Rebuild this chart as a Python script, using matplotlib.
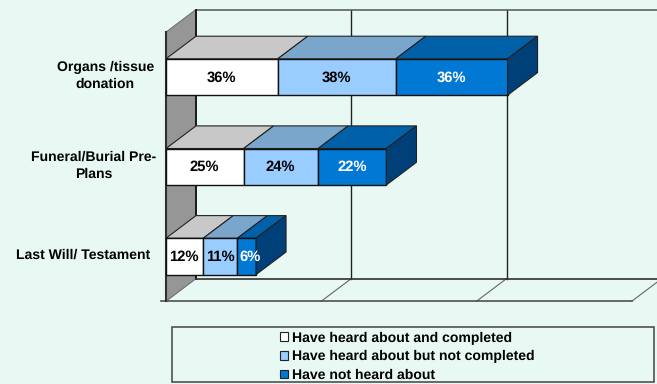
import matplotlib

matplotlib.use("Agg")
import matplotlib.pyplot as plt
from matplotlib.patches import Patch, Polygon, Rectangle

plt.rcParams["font.family"] = ["Liberation Sans", "DejaVu Sans"]
plt.rcParams["text.hinting"] = "no_hinting"

W, H = 657, 384

# data
categories = ["Organs /tissue\ndonation", "Funeral/Burial Pre-\nPlans", "Last Will/ Testament"]
series_names = [
    "Have heard about and completed",
    "Have heard about but not completed",
    "Have not heard about",
]
completed = [36, 25, 12]
not_completed = [38, 24, 11]
not_heard = [36, 22, 6]
grid_ticks = [0, 50, 100, 150]

# colours per series: front, top, text
FRONT = ["#FFFFFF", "#99CCFF", "#0078D4"]
TOP = ["#C8C8C8", "#7BA6CC", "#0060A8"]
TEXT = ["#000000", "#000000", "#FFFFFF"]
SIDE = "#004078"
BG = "#E8F8F3"
WALL = "#969696"

# chart geometry, pixels
X0 = 166
PX_PER_PCT = 3.105
ROW0 = 77
ROW_STEP = 89.7
DEPTH_X = 30 / PX_PER_PCT
DEPTH_Y = 22.6 / ROW_STEP
BAR_H = 36.4 / ROW_STEP

fig = plt.figure(figsize=(W / 100, H / 100), dpi=100, facecolor=BG)
ax = fig.add_axes([0, 0, 1, 1])
ax.set_xlim(-X0 / PX_PER_PCT, (W - X0) / PX_PER_PCT)
ax.set_ylim((H - ROW0) / ROW_STEP, -ROW0 / ROW_STEP)
ax.axis("off")

n = len(categories)
floor_y = n - 0.5
top_y = -0.5

# left wall
ax.add_patch(Polygon(
    [(0, top_y), (DEPTH_X, top_y - DEPTH_Y), (DEPTH_X, floor_y - DEPTH_Y), (0, floor_y)],
    facecolor=WALL, edgecolor="#707070", linewidth=0.8, zorder=1,
))

# back wall gridlines and floor
for i, t in enumerate(grid_ticks):
    if i > 0 and t < 150:
        ax.plot([t + DEPTH_X] * 2, [top_y - DEPTH_Y, floor_y - DEPTH_Y], color="#222222", lw=1.0, zorder=1)
    if i > 0:
        ax.plot([t, t + DEPTH_X], [floor_y, floor_y - DEPTH_Y], color="#666666", lw=0.8, zorder=1)
ax.plot([DEPTH_X, DEPTH_X], [top_y - DEPTH_Y, floor_y - DEPTH_Y], color="#111111", lw=1.3, zorder=2)
ax.plot([DEPTH_X, 150 + DEPTH_X], [top_y - DEPTH_Y] * 2, color="#606060", lw=1.2, zorder=1)
ax.plot([DEPTH_X, 150 + DEPTH_X], [floor_y - DEPTH_Y] * 2, color="#303030", lw=1.2, zorder=2)
ax.plot([-5 / PX_PER_PCT, 150], [floor_y] * 2, color="#505050", lw=1.2, zorder=2)
ax.plot([0, 0], [top_y, floor_y], color="#303030", lw=1.5, zorder=2)

# bars
rows = list(zip(completed, not_completed, not_heard))
for r, values in enumerate(rows):
    top = r - BAR_H / 2
    bottom = r + BAR_H / 2
    left = 0
    for s, v in enumerate(values):
        ax.add_patch(Polygon(
            [(left, top), (left + DEPTH_X, top - DEPTH_Y), (left + v + DEPTH_X, top - DEPTH_Y), (left + v, top)],
            facecolor=TOP[s], edgecolor="#222222", linewidth=0.8, zorder=3,
        ))
        ax.add_patch(Rectangle((left, top), v, BAR_H, facecolor=FRONT[s], edgecolor="#111111",
                               linewidth=1.0, zorder=4))
        # small segments get their label pushed right, as in the original
        nudge = 1.3 if v < 10 else 0
        ax.text(left + v / 2 + nudge - 0.1, r + 0.005, f"{v}%", color=TEXT[s], fontsize=10.6, fontweight="bold",
                ha="center", va="center", zorder=6)
        left += v
    ax.add_patch(Polygon(
        [(left, top), (left + DEPTH_X, top - DEPTH_Y), (left + DEPTH_X, bottom - DEPTH_Y), (left, bottom)],
        facecolor=SIDE, edgecolor="#222222", linewidth=0.8, zorder=5,
    ))

# category labels, right edges differ because the original wraps them centred
label_right = [154, 156, 150.5]
for r, (name, right) in enumerate(zip(categories, label_right)):
    ax.text((right - X0) / PX_PER_PCT, r - 0.015, name, fontsize=10.1, fontweight="bold",
            ha="right", va="center", ma="center", linespacing=1.42, zorder=6)

# legend box
trans = fig.transFigure
fig.add_artist(Rectangle((172 / W, 1 - 382 / H), 482 / W, 55 / H, transform=trans,
                         facecolor=BG, edgecolor="#505050", linewidth=1.2))
handles = [Patch(facecolor=FRONT[i], edgecolor="#222222", linewidth=0.8) for i in range(3)]
leg = fig.legend(
    handles, series_names,
    loc="upper left", bbox_to_anchor=(280 / W, 1 - 331.5 / H), bbox_transform=trans,
    frameon=False, borderpad=0, borderaxespad=0,
    prop={"size": 10.1, "weight": "bold"},
    handlelength=0.56, handleheight=0.56, handletextpad=0.33, labelspacing=0.4,
)

fig.savefig("out.png", dpi=100, facecolor=BG)
plt.close(fig)
